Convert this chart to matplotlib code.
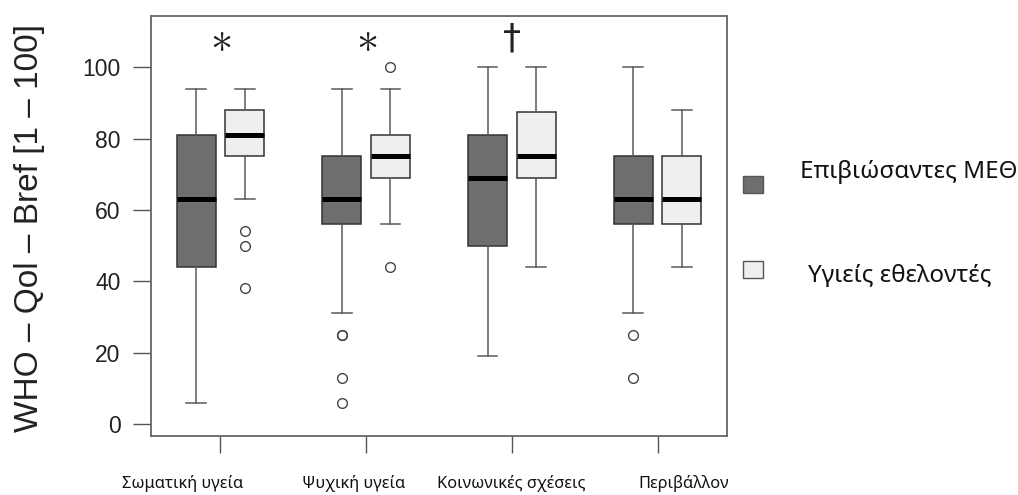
import matplotlib
matplotlib.use('Agg')
import matplotlib.pyplot as plt
from matplotlib.patches import Rectangle

# ---------------- data ----------------
categories = ['Σωματική υγεία', 'Ψυχική υγεία', 'Κοινωνικές σχέσεις', 'Περιβάλλον']
series = ['Επιβιώσαντες ΜΕΘ', 'Υγιείς εθελοντές']

icu_whislo = [6, 31, 19, 31]
icu_q1 = [44, 56, 50, 56]
icu_med = [63, 63, 69, 63]
icu_q3 = [81, 75, 81, 75]
icu_whishi = [94, 94, 100, 100]
icu_fliers = [[], [25, 25, 13, 6], [], [25, 13]]

healthy_whislo = [63, 56, 44, 44]
healthy_q1 = [75, 69, 69, 56]
healthy_med = [81, 75, 75, 63]
healthy_q3 = [88, 81, 87.5, 75]
healthy_whishi = [94, 94, 100, 88]
healthy_fliers = [[54, 50, 38], [100, 44], [], []]

significance = [r'$\ast$', r'$\ast$', '†', '']
sig_y = 108
yticks = [0, 20, 40, 60, 80, 100]
ylabel = 'WHO – Qol – Bref [1 – 100]'

# ---------------- style ----------------
W, H = 1018, 495
fill_colors = ['#6e6e6e', '#efefef']
edge_colors = ['#333333', '#333333']
whisk_color = '#5a5a5a'
box_offset = 0.167
box_width = 0.268
greek_font = ['Noto Sans', 'DejaVu Sans']
num_font = ['Liberation Sans', 'DejaVu Sans']


def make_stats(lo, q1, med, q3, hi, fl):
    return [dict(whislo=a, q1=b, med=c, q3=d, whishi=e, fliers=f)
            for a, b, c, d, e, f in zip(lo, q1, med, q3, hi, fl)]


stats_sets = [
    make_stats(icu_whislo, icu_q1, icu_med, icu_q3, icu_whishi, icu_fliers),
    make_stats(healthy_whislo, healthy_q1, healthy_med, healthy_q3, healthy_whishi, healthy_fliers),
]

fig = plt.figure(figsize=(W / 100, H / 100), dpi=100)
ax = fig.add_axes([151 / W, 59 / H, 576 / W, 420 / H])

centers = list(range(1, len(categories) + 1))
for k, stats in enumerate(stats_sets):
    off = -box_offset if k == 0 else box_offset
    pos = [c + off for c in centers]
    ax.bxp(stats, positions=pos, widths=box_width, patch_artist=True,
           showfliers=True,
           boxprops=dict(facecolor=fill_colors[k], edgecolor=edge_colors[k], linewidth=1.1),
           medianprops=dict(color='black', linewidth=3.6, solid_capstyle='butt'),
           whiskerprops=dict(color=whisk_color, linewidth=1.1),
           capprops=dict(color=whisk_color, linewidth=1.1),
           flierprops=dict(marker='o', markerfacecolor='none', markeredgecolor='#444444',
                           markersize=7, markeredgewidth=1.0))

for c, s in zip(centers, significance):
    if s.startswith('$'):
        ax.text(c, sig_y, s, ha='center', va='center', fontsize=32,
                math_fontfamily='cm', color='#222222')
    elif s:
        ax.text(c, sig_y, s, ha='center', va='center', fontsize=26,
                family=['DejaVu Sans'], color='#222222')

ax.set_xlim(0.523, 4.477)
ax.set_ylim(-3.36, 114.36)
ax.set_yticks(yticks)
ax.set_yticklabels([str(v) for v in yticks], family=num_font, fontsize=16.5, color='#222222')
ax.set_xticks(centers)
ax.set_xticklabels([''] * len(centers))
ax.tick_params(axis='y', direction='out', length=13, width=1.0, color='#555555', pad=9)
ax.tick_params(axis='x', direction='out', length=12, width=1.0, color='#555555')
for sp in ax.spines.values():
    sp.set_color('#666666')
    sp.set_linewidth(1.3)

# y-axis title
fig.text(30 / W, 1 - 228.5 / H, ylabel, rotation=90, ha='center', va='center',
         family=num_font, fontsize=24, color='#222222')

# category labels below axis
label_x_px = [183, 353.5, 511, 684]
for lx, lab in zip(label_x_px, categories):
    fig.text(lx / W, 1 - 484 / H, lab, ha='center', va='center',
             family=greek_font, fontsize=11.8, color='#111111')

# legend (outside, right)
sq_y_px = [176, 261]
txt_y_px = [172, 276]
for k in range(2):
    fig.add_artist(Rectangle((743 / W, 1 - (sq_y_px[k] + 17) / H), 20 / W, 17 / H,
                             facecolor=fill_colors[k], edgecolor='#555555', linewidth=1.0,
                             transform=fig.transFigure))
fig.text(800 / W, 1 - txt_y_px[0] / H, series[0], ha='left', va='center',
         family=greek_font, fontsize=17.4, color='#111111')
fig.text(900 / W, 1 - txt_y_px[1] / H, series[1], ha='center', va='center',
         family=greek_font, fontsize=17.4, color='#111111')

fig.savefig('out.png', dpi=100)
